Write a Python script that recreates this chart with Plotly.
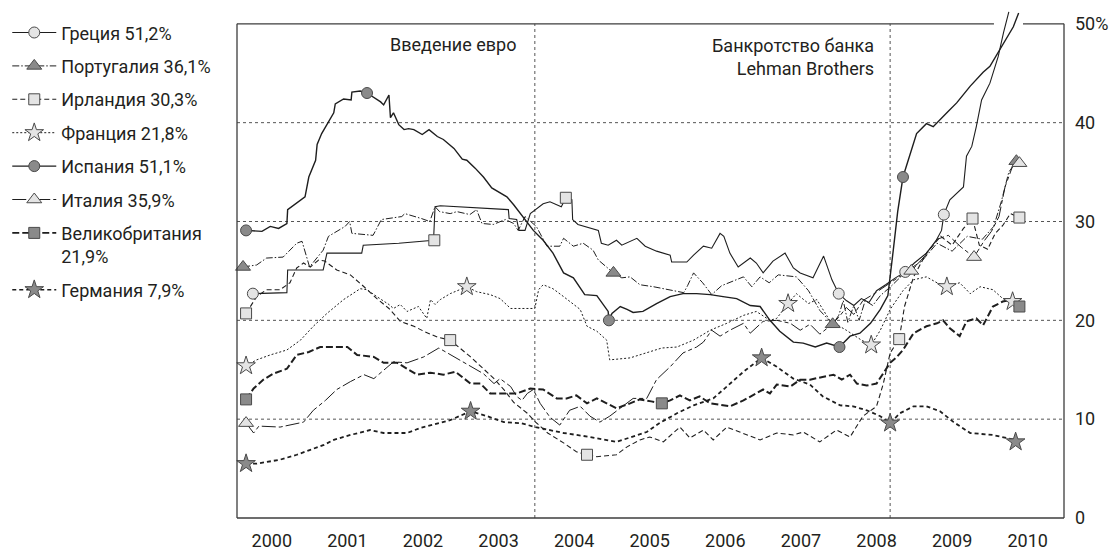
import plotly.graph_objects as go

# ---------------- data (time in decimal years, value in %) ----------------
GR_T = [2000.25, 2000.70, 2000.71, 2001.18, 2001.23, 2001.69, 2001.71, 2002.18, 2002.64, 2002.66, 2002.73,
        2003.55, 2003.63, 2003.64, 2003.74, 2003.77, 2003.85, 2003.92, 2004.09, 2004.18, 2004.33, 2004.39,
        2004.47, 2004.48, 2004.55, 2004.82, 2004.86, 2004.95, 2005.06, 2005.13, 2005.24, 2005.33, 2005.44,
        2005.59, 2005.77, 2005.79, 2005.99, 2006.08, 2006.21, 2006.32, 2006.43, 2006.48, 2006.56, 2006.67,
        2006.83, 2006.91, 2007.00, 2007.13, 2007.29, 2007.40, 2007.49, 2007.66, 2007.80, 2007.91, 2008.00,
        2008.10, 2008.20, 2008.30, 2008.40, 2008.50, 2008.62, 2008.75, 2008.88, 2009.00, 2009.16, 2009.29,
        2009.36, 2009.39, 2009.47, 2009.65, 2009.69, 2009.76, 2009.82, 2009.89, 2010.00, 2010.11, 2010.18,
        2010.25]
GR_V = [22.7, 22.8, 25.1, 25.1, 26.8, 26.8, 27.6, 27.8, 28.1, 31.5, 31.6,
        31.3, 31.2, 30.3, 30.2, 29.1, 29.1, 30.8, 31.8, 32.0, 31.5, 32.4,
        32.2, 30.2, 29.7, 29.1, 27.8, 27.6, 28.1, 27.6, 28.0, 28.3, 27.5,
        27.0, 26.6, 25.9, 25.9, 26.6, 27.5, 27.3, 28.8, 28.5, 26.8, 25.4,
        26.3, 25.8, 24.8, 26.0, 26.8, 25.3, 24.8, 24.3, 26.5, 24.1, 22.7,
        22.0, 21.5, 22.2, 21.8, 23.0, 23.6, 24.3, 24.9, 25.8, 26.8, 28.1,
        29.1, 30.7, 32.2, 33.5, 36.6, 37.6, 39.6, 42.3, 44.0, 46.7, 49.1,
        51.2]

PT_T = [2000.12, 2000.30, 2000.43, 2000.65, 2000.83, 2000.90, 2001.00, 2001.18, 2001.25, 2001.47, 2001.53,
        2001.56, 2001.84, 2001.95, 2002.22, 2002.26, 2002.48, 2002.59, 2002.66, 2002.72, 2002.86, 2002.95,
        2003.12, 2003.21, 2003.28, 2003.43, 2003.59, 2003.70, 2003.76, 2003.85, 2004.00, 2004.14, 2004.31,
        2004.36, 2004.49, 2004.62, 2004.75, 2004.82, 2005.02, 2005.13, 2005.24, 2005.37, 2005.55, 2005.68,
        2005.95, 2006.00, 2006.08, 2006.20, 2006.32, 2006.45, 2006.60, 2006.74, 2006.85, 2006.96, 2007.08,
        2007.20, 2007.44, 2007.60, 2007.75, 2007.92, 2008.00, 2008.06, 2008.12, 2008.20, 2008.27, 2008.35,
        2008.45, 2008.55, 2008.70, 2008.90, 2009.10, 2009.30, 2009.50, 2009.70, 2009.90, 2010.05, 2010.15,
        2010.25, 2010.35]
PT_V = [25.4, 25.6, 26.3, 26.4, 27.8, 28.0, 25.4, 27.1, 28.5, 29.5, 30.0,
        28.8, 28.6, 30.2, 30.5, 30.8, 30.3, 30.0, 31.5, 31.0, 30.8, 31.0,
        30.7, 31.2, 29.8, 29.7, 30.2, 29.8, 29.1, 30.5, 29.5, 27.5, 27.5,
        28.3, 27.5, 27.8, 27.1, 26.1, 24.8, 24.3, 24.4, 23.6, 23.4, 23.2,
        22.8, 23.5, 24.8, 23.8, 22.6, 23.5, 24.0, 24.4, 23.4, 24.4, 23.8,
        24.6, 24.4, 23.0, 21.0, 19.6, 20.5, 22.0, 19.8, 21.5, 20.0, 22.0,
        21.5, 22.5, 23.5, 25.0, 26.0, 27.8, 27.0, 28.5, 28.2, 29.5, 32.0,
        35.0, 36.1]

IE_T = [2000.16, 2000.30, 2000.43, 2000.61, 2000.74, 2000.83, 2000.92, 2001.01, 2001.12, 2001.20, 2001.36,
        2001.54, 2001.72, 2001.89, 2002.05, 2002.20, 2002.38, 2002.51, 2002.69, 2002.86, 2003.13, 2003.30,
        2003.44, 2003.57, 2003.70, 2003.88, 2003.99, 2004.15, 2004.36, 2004.53, 2004.67, 2004.80, 2005.06,
        2005.20, 2005.37, 2005.50, 2005.68, 2005.81, 2005.90, 2006.03, 2006.21, 2006.34, 2006.52, 2006.69,
        2006.96, 2007.18, 2007.40, 2007.53, 2007.75, 2007.97, 2008.15, 2008.32, 2008.50, 2008.59, 2008.68,
        2008.80, 2008.87, 2008.99, 2009.16, 2009.35, 2009.50, 2009.65, 2009.77, 2009.86, 2009.97, 2010.07,
        2010.17, 2010.27, 2010.39]
IE_V = [20.7, 22.4, 23.1, 23.1, 23.8, 25.3, 25.8, 25.4, 26.1, 26.0, 25.1,
        24.6, 23.4, 22.2, 21.2, 19.9, 19.4, 18.9, 18.3, 18.0, 16.3, 15.1,
        14.1, 13.0, 11.7, 10.6, 9.7, 8.6, 7.6, 6.7, 6.4, 6.2, 6.4,
        7.2, 7.9, 8.2, 7.7, 8.6, 9.2, 8.1, 8.9, 7.9, 9.2, 8.7,
        7.9, 8.6, 8.4, 8.7, 7.7, 8.9, 8.2, 10.3, 11.3, 13.6, 16.7,
        18.1, 21.4, 24.4, 26.8, 28.5, 27.6, 29.3, 30.3, 27.6, 27.2, 28.8,
        29.6, 30.8, 30.4]

FR_T = [2000.16, 2000.30, 2000.48, 2000.70, 2000.88, 2001.05, 2001.23, 2001.45, 2001.67, 2001.76, 2001.89,
        2002.05, 2002.11, 2002.20, 2002.29, 2002.38, 2002.44, 2002.55, 2002.60, 2002.66, 2002.73, 2002.86,
        2003.08, 2003.21, 2003.39, 2003.52, 2003.66, 2003.98, 2004.03, 2004.09, 2004.22, 2004.36, 2004.58,
        2004.67, 2004.80, 2004.93, 2004.97, 2005.24, 2005.46, 2005.66, 2005.86, 2006.08, 2006.30, 2006.52,
        2006.74, 2006.91, 2007.09, 2007.18, 2007.33, 2007.44, 2007.60, 2007.71, 2007.88, 2008.10, 2008.30,
        2008.43, 2008.55, 2008.68, 2008.85, 2008.99, 2009.16, 2009.30, 2009.43, 2009.60, 2009.74, 2009.87,
        2010.04, 2010.17, 2010.30, 2010.36]
FR_V = [15.4, 16.0, 16.5, 17.0, 18.0, 19.4, 20.7, 22.1, 23.2, 23.1, 22.4,
        21.6, 21.2, 21.6, 20.9, 21.2, 21.4, 20.2, 22.1, 21.6, 22.1, 22.7,
        23.4, 22.9, 22.6, 22.2, 21.2, 21.2, 23.1, 23.6, 23.2, 22.4, 21.1,
        19.4, 18.9, 18.0, 16.0, 16.2, 16.7, 17.2, 17.3, 18.0, 19.0, 19.7,
        20.5, 20.9, 20.0, 20.2, 21.7, 22.7, 21.7, 22.1, 20.0, 19.0, 18.0,
        17.5, 19.0, 21.1, 23.0, 24.1, 24.4, 23.8, 23.4, 23.8, 22.7, 23.4,
        23.1, 22.2, 21.9, 21.8]

ES_T = [2000.16, 2000.37, 2000.48, 2000.59, 2000.70, 2000.71, 2000.94, 2000.99, 2001.08, 2001.10, 2001.16,
        2001.21, 2001.32, 2001.34, 2001.45, 2001.55, 2001.56, 2001.67, 2001.76, 2001.94, 2001.98, 2002.05,
        2002.07, 2002.11, 2002.18, 2002.25, 2002.31, 2002.38, 2002.49, 2002.58, 2002.69, 2002.77, 2002.91,
        2003.02, 2003.08, 2003.19, 2003.30, 2003.41, 2003.52, 2003.61, 2003.70, 2003.79, 2003.88, 2003.96,
        2004.09, 2004.22, 2004.36, 2004.49, 2004.64, 2004.80, 2004.95, 2004.96, 2005.00, 2005.11, 2005.20,
        2005.28, 2005.41, 2005.59, 2005.77, 2005.94, 2006.12, 2006.30, 2006.47, 2006.65, 2006.83, 2006.96,
        2007.09, 2007.22, 2007.40, 2007.53, 2007.69, 2007.84, 2008.01, 2008.15, 2008.28, 2008.42, 2008.55,
        2008.65, 2008.72, 2008.78, 2008.85, 2009.03, 2009.16, 2009.25, 2009.43, 2009.56, 2009.74, 2009.91,
        2010.00, 2010.18, 2010.31, 2010.38]
ES_V = [29.1, 29.0, 29.5, 29.3, 29.8, 31.2, 32.5, 34.5, 36.2, 37.8, 38.9,
        39.6, 41.0, 41.9, 42.4, 42.3, 43.1, 43.2, 43.0, 42.1, 41.8, 42.8,
        40.5, 41.0, 39.8, 39.3, 39.4, 39.3, 38.8, 39.3, 38.6, 38.3, 37.4,
        36.3, 36.2, 35.4, 34.5, 33.4, 32.9, 32.5, 31.7, 30.8, 30.0, 29.1,
        28.1, 26.8, 24.8, 24.3, 22.6, 22.5, 20.9, 20.0, 20.7, 21.4, 21.1,
        20.8, 20.9, 21.7, 22.4, 22.7, 22.7, 22.6, 22.4, 22.2, 21.5, 21.4,
        20.0, 18.9, 17.8, 17.7, 17.3, 17.7, 17.3, 18.4, 18.7, 19.7, 21.1,
        22.5, 27.0, 31.0, 34.5, 38.9, 39.9, 39.6, 41.0, 42.0, 43.7, 45.1,
        45.7, 48.0, 49.7, 51.1]

IT_T = [2000.16, 2000.26, 2000.33, 2000.61, 2000.92, 2001.05, 2001.21, 2001.36, 2001.54, 2001.72, 2001.85,
        2001.98, 2002.11, 2002.29, 2002.51, 2002.71, 2002.91, 2003.13, 2003.30, 2003.44, 2003.52, 2003.66,
        2003.74, 2003.81, 2003.88, 2003.96, 2004.05, 2004.18, 2004.31, 2004.44, 2004.58, 2004.71, 2004.84,
        2004.97, 2005.11, 2005.28, 2005.46, 2005.59, 2005.77, 2005.94, 2006.12, 2006.21, 2006.32, 2006.43,
        2006.56, 2006.74, 2006.83, 2007.00, 2007.18, 2007.36, 2007.49, 2007.62, 2007.75, 2007.88, 2008.00,
        2008.10, 2008.20, 2008.32, 2008.45, 2008.60, 2008.80, 2008.96, 2009.15, 2009.30, 2009.45, 2009.62,
        2009.79, 2009.92, 2010.02, 2010.12, 2010.20, 2010.30, 2010.39]
IT_V = [9.6, 8.6, 9.3, 9.2, 9.7, 10.9, 11.9, 13.0, 13.8, 14.5, 14.1,
        15.0, 15.8, 15.7, 16.3, 17.2, 16.3, 15.3, 14.6, 13.6, 14.1, 13.3,
        12.3, 11.9, 12.6, 13.0, 11.6, 10.2, 9.4, 10.9, 11.3, 10.3, 9.7,
        10.3, 11.1, 12.1, 12.1, 14.0, 15.3, 16.7, 17.3, 17.8, 19.0, 18.4,
        19.0, 19.7, 18.7, 19.9, 20.0, 19.7, 19.0, 19.6, 18.6, 19.4, 20.3,
        21.3, 20.6, 22.0, 22.6, 23.4, 24.4, 25.0, 26.6, 28.2, 28.6, 27.4,
        26.4, 28.0, 29.0, 30.5, 33.5, 35.6, 35.9]

UK_T = [2000.16, 2000.26, 2000.39, 2000.52, 2000.70, 2000.83, 2000.99, 2001.14, 2001.50, 2001.63, 2001.85,
        2001.98, 2002.16, 2002.42, 2002.60, 2002.77, 2002.93, 2003.13, 2003.26, 2003.39, 2003.74, 2003.92,
        2004.09, 2004.27, 2004.40, 2004.53, 2004.67, 2004.80, 2004.93, 2005.06, 2005.24, 2005.37, 2005.52,
        2005.66, 2005.77, 2005.90, 2006.03, 2006.16, 2006.30, 2006.56, 2006.74, 2007.00, 2007.09, 2007.18,
        2007.36, 2007.49, 2007.62, 2007.79, 2007.93, 2008.04, 2008.15, 2008.24, 2008.37, 2008.50, 2008.59,
        2008.68, 2008.77, 2008.85, 2008.99, 2009.16, 2009.30, 2009.38, 2009.47, 2009.60, 2009.69, 2009.82,
        2009.91, 2010.04, 2010.17, 2010.30, 2010.39]
UK_V = [12.0, 13.1, 14.0, 14.6, 15.1, 16.5, 16.8, 17.3, 17.3, 16.5, 16.3,
        15.7, 15.7, 14.5, 14.7, 14.5, 14.8, 13.6, 13.6, 12.6, 12.6, 13.1,
        13.0, 12.1, 12.1, 12.4, 11.6, 12.1, 11.6, 11.1, 11.6, 12.0, 11.8,
        11.6, 11.9, 12.4, 11.9, 12.3, 11.6, 11.3, 11.9, 13.0, 12.6, 13.5,
        13.3, 14.0, 14.0, 14.3, 14.5, 14.0, 14.5, 13.6, 13.4, 13.6, 14.6,
        15.7, 16.3, 17.0, 18.7, 19.4, 19.7, 20.0, 19.2, 18.4, 19.9, 20.2,
        19.5, 21.4, 21.9, 22.1, 21.9]

DE_T = [2000.16, 2000.30, 2000.61, 2000.83, 2001.01, 2001.19, 2001.32, 2001.54, 2001.80, 2001.98, 2002.29,
        2002.46, 2002.86, 2003.13, 2003.35, 2003.57, 2003.79, 2003.99, 2004.36, 2004.71, 2005.06, 2005.46,
        2005.63, 2005.86, 2006.08, 2006.34, 2006.52, 2006.74, 2006.98, 2007.18, 2007.40, 2007.62, 2007.79,
        2008.02, 2008.19, 2008.37, 2008.55, 2008.68, 2008.81, 2008.99, 2009.16, 2009.34, 2009.52, 2009.74,
        2010.04, 2010.17, 2010.34]
DE_V = [5.5, 5.5, 5.9, 6.4, 6.9, 7.4, 7.9, 8.4, 8.9, 8.6, 8.6,
        9.1, 9.9, 10.8, 10.3, 9.7, 9.6, 9.2, 8.6, 8.2, 7.7, 8.7,
        9.6, 10.6, 11.4, 12.1, 13.3, 14.8, 16.2, 15.3, 14.1, 13.5, 12.3,
        11.4, 11.3, 10.9, 10.3, 9.6, 10.6, 11.3, 11.3, 10.8, 9.7, 8.6,
        8.4, 8.2, 7.9]

# marker positions
GR_MT = [2000.25, 2008.00, 2008.88, 2009.39]
GR_MV = [22.7, 22.7, 24.9, 30.7]
PT_MT = [2000.12, 2005.02, 2007.92, 2010.35]
PT_MV = [25.4, 24.8, 19.6, 36.1]
IE_MT = [2000.16, 2002.65, 2002.86, 2004.39, 2004.67, 2008.80, 2009.77, 2010.39]
IE_MV = [20.7, 28.1, 18.0, 32.4, 6.4, 18.1, 30.3, 30.4]
FR_MT = [2000.16, 2003.08, 2007.33, 2008.43, 2009.43, 2010.30]
FR_MV = [15.4, 23.4, 21.7, 17.5, 23.4, 21.9]
ES_MT = [2000.16, 2001.76, 2004.96, 2008.01, 2008.85]
ES_MV = [29.1, 43.0, 20.0, 17.3, 34.5]
IT_MT = [2000.16, 2008.96, 2009.79, 2010.39]
IT_MV = [9.6, 25.0, 26.4, 35.9]
UK_MT = [2000.16, 2005.66, 2010.39]
UK_MV = [12.0, 11.6, 21.4]
DE_MT = [2000.16, 2003.13, 2006.98, 2008.68, 2010.34]
DE_MV = [5.5, 10.8, 16.2, 9.6, 7.7]

NAMES = ["Греция 51,2%", "Португалия 36,1%", "Ирландия 30,3%", "Франция 21,8%",
         "Испания 51,1%", "Италия 35,9%", "Великобритания<br>21,9%", "Германия 7,9%"]
YEARS = list(range(2000, 2011))
EVENTS_T = [2003.98, 2008.68]
EVENT_TEXT = ["Введение евро", "Банкротство банка<br>Lehman Brothers"]
Y_TICKS = [0, 10, 20, 30, 40, 50]
Y_TEXT = ["0", "10", "20", "30", "40", "50%"]

# ---------------- styles ----------------
INK = "#231f20"
LIGHT = "#e4e4e4"
DARK = "#8a8a8a"
EDGE = "#4a4a4a"
FONT = "Roboto, 'Liberation Sans', sans-serif"

series = [
    (GR_T, GR_V, GR_MT, GR_MV, "solid", 1.1, "circle", LIGHT, 11),
    (PT_T, PT_V, PT_MT, PT_MV, "7px,2px,1.5px,2px", 1.0, "triangle-up", DARK, 13),
    (IE_T, IE_V, IE_MT, IE_MV, "5px,3px", 1.1, "square", LIGHT, 11),
    (FR_T, FR_V, FR_MT, FR_MV, "2px,2px", 1.0, "star", LIGHT, 14),
    (ES_T, ES_V, ES_MT, ES_MV, "solid", 1.4, "circle", DARK, 11),
    (IT_T, IT_V, IT_MT, IT_MV, "14px,3px,4px,3px", 1.0, "triangle-up", LIGHT, 13),
    (UK_T, UK_V, UK_MT, UK_MV, "7px,3px", 2.0, "square", DARK, 11),
    (DE_T, DE_V, DE_MT, DE_MV, "4px,3px", 1.8, "star", DARK, 14),
]

fig = go.Figure()

# lines
for i, (t, v, mt, mv, dash, w, sym, fill, ms) in enumerate(series):
    fig.add_trace(go.Scatter(x=t, y=v, mode="lines", line=dict(color="#1e1e1e", width=w, dash=dash),
                             showlegend=False, hoverinfo="skip", legendgroup=f"g{i}"))
# markers
for i, (t, v, mt, mv, dash, w, sym, fill, ms) in enumerate(series):
    fig.add_trace(go.Scatter(x=mt, y=mv, mode="markers",
                             marker=dict(symbol=sym, size=ms, color=fill, line=dict(color=EDGE, width=1)),
                             showlegend=False, hoverinfo="skip", legendgroup=f"g{i}", cliponaxis=False))
# legend entries
for i, (t, v, mt, mv, dash, w, sym, fill, ms) in enumerate(series):
    fig.add_trace(go.Scatter(x=[1990], y=[-50], mode="lines+markers", name=NAMES[i],
                             line=dict(color="#1e1e1e", width=min(w, 1.6), dash=dash),
                             marker=dict(symbol=sym, size=ms, color=fill, line=dict(color=EDGE, width=1)),
                             legendgroup=f"g{i}", showlegend=True, hoverinfo="skip"))

shapes = []
for g in [10, 20, 30, 40]:
    shapes.append(dict(type="line", xref="paper", yref="y", x0=0, x1=1, y0=g, y1=g,
                       line=dict(color="#555", width=1, dash="dot"), layer="below"))
for et in EVENTS_T:
    shapes.append(dict(type="line", xref="x", yref="y", x0=et, x1=et, y0=0, y1=50,
                       line=dict(color="#555", width=1, dash="dot"), layer="below"))
FR = dict(color="#3c3c3c", width=1.3)
shapes += [
    dict(type="line", xref="paper", yref="y", x0=0, x1=0, y0=0, y1=50, line=FR),
    dict(type="line", xref="paper", yref="y", x0=1, x1=1, y0=0, y1=50, line=FR),
    dict(type="line", xref="paper", yref="paper", x0=0, x1=1, y0=0, y1=0, line=FR),
    dict(type="line", xref="paper", yref="y", x0=0, x1=0.9153, y0=50, y1=50, line=FR),
    dict(type="line", xref="paper", yref="y", x0=0.9504, x1=1, y0=50, y1=50, line=FR),
]

annotations = [
    dict(x=2003.76, y=47.9, xref="x", yref="y", text=EVENT_TEXT[0], showarrow=False,
         xanchor="right", yanchor="middle", align="right", font=dict(size=18, color=INK, family=FONT)),
    dict(x=2008.49, y=46.6, xref="x", yref="y", text=EVENT_TEXT[1], showarrow=False,
         xanchor="right", yanchor="middle", align="right", font=dict(size=18, color=INK, family=FONT)),
]

fig.update_layout(
    template="none",
    width=1116, height=550,
    margin=dict(l=237, r=52, t=10, b=32),
    paper_bgcolor="white", plot_bgcolor="white",
    font=dict(family=FONT, color=INK, size=18),
    shapes=shapes, annotations=annotations,
    legend=dict(xref="container", yref="container", x=0.0065, y=0.974, xanchor="left", yanchor="top",
                bgcolor="rgba(0,0,0,0)", font=dict(size=18, color=INK, family=FONT),
                traceorder="grouped", tracegroupgap=7, itemwidth=44, valign="top", itemclick=False,
                maxheight=520),
    xaxis=dict(range=[2000.04, 2010.98], showgrid=False, zeroline=False, showline=False, automargin=False,
               tickvals=[y + 0.5 for y in YEARS], ticktext=[str(y) for y in YEARS],
               ticks="", ticklabelstandoff=10, tickfont=dict(size=18, color=INK, family=FONT)),
    yaxis=dict(range=[0, 51.4], side="right", showgrid=False, zeroline=False, showline=False, automargin=False,
               tickvals=Y_TICKS, ticktext=Y_TEXT, ticks="", ticklabelstandoff=10,
               tickfont=dict(size=18, color=INK, family=FONT)),
    showlegend=True,
)

fig.write_html("out.html", config={"displayModeBar": False},
               post_script="document.body.style.margin='0';document.body.style.overflow='hidden';")
